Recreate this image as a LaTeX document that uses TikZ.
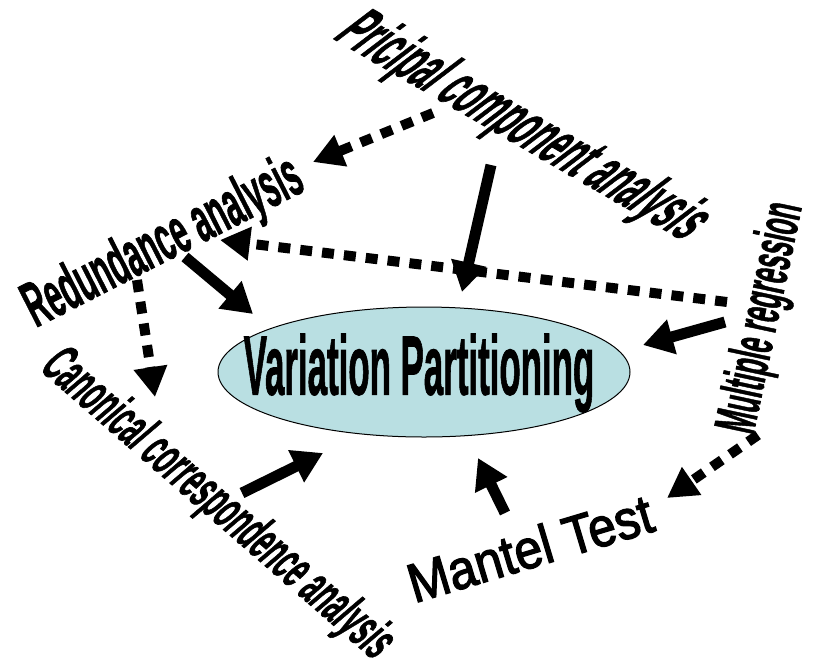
\documentclass[tikz,border=0pt]{standalone}
\usepackage{fontspec}
\setmainfont{Liberation Sans}
\newfontfamily\heavyfont[FakeBold=1.5]{Liberation Sans Bold}
\newfontfamily\plainfont[FakeBold=2.5]{Liberation Sans}
\usepackage{tikz}
\usetikzlibrary{arrows.meta,shapes.geometric}
\definecolor{vpfill}{HTML}{B9DFE2}

\begin{document}
\begin{tikzpicture}[x=1pt,y=-1pt,
  lbl/.style={inner sep=0pt},
  solidarrow/.style={line width=11pt,-{Triangle[length=30pt,width=34pt]}},
  dasharrow/.style={line width=10pt,dash pattern=on 12pt off 10pt,-{Triangle[length=30pt,width=32pt]}}]
  \useasboundingbox (0,0) rectangle (822,665);
  % centre
  \node[ellipse,draw,line width=1pt,fill=vpfill,minimum width=412pt,minimum height=130pt,inner sep=0pt] (vp) at (424,372) {};
  \node[lbl,font=\fontsize{84}{90}\selectfont\heavyfont,xscale=0.415] (vptext) at (419,373) {Variation Partitioning};
  % methods round it
  \node[lbl,font=\fontsize{66}{72}\selectfont\heavyfont,rotate=-30,xslant=0.42,xscale=0.455] (pca) at (522,128) {Pricipal component analysis};
  \node[lbl,font=\fontsize{64}{70}\selectfont\heavyfont,rotate=27,xscale=0.465] (rda) at (164,244) {Redundance analysis};
  \node[lbl,font=\fontsize{56}{62}\selectfont\heavyfont,rotate=-41,xslant=0.15,xscale=0.465] (cca) at (217,505) {Canonical correspondence analysis};
  \node[lbl,font=\fontsize{58}{64}\selectfont\heavyfont,rotate=78,xscale=0.44] (mr) at (763,318) {Multiple regression};
  \node[lbl,font=\fontsize{55}{60}\selectfont\plainfont,rotate=16.7,xscale=0.9] (mt) at (530,548) {Mantel Test};
  % arrow ends
  \coordinate (pcaA) at (433,113);  \coordinate (rdaIn1) at (313,162);
  \coordinate (pcaB) at (491,165);  \coordinate (vpIn1) at (462,292);
  \coordinate (mrA) at (727,302);   \coordinate (rdaIn2) at (220,240);
  \coordinate (rdaA) at (185,257);  \coordinate (vpIn2) at (253,314);
  \coordinate (rdaB) at (137,280);  \coordinate (ccaIn) at (155,397);
  \coordinate (mrB) at (725,322);   \coordinate (vpIn3) at (643,345);
  \coordinate (mrC) at (758,435);   \coordinate (mtIn) at (667,498);
  \coordinate (ccaA) at (242,493);  \coordinate (vpIn4) at (323,453);
  \coordinate (mtA) at (505,513);   \coordinate (vpIn5) at (478,458);
  \draw[dasharrow] (pcaA) -- (rdaIn1);
  \draw[solidarrow] (pcaB) -- (vpIn1);
  \draw[dasharrow] (mrA) -- (rdaIn2);
  \draw[solidarrow] (rdaA) -- (vpIn2);
  \draw[dasharrow] (rdaB) -- (ccaIn);
  \draw[solidarrow] (mrB) -- (vpIn3);
  \draw[dasharrow] (mrC) -- (mtIn);
  \draw[solidarrow] (ccaA) -- (vpIn4);
  \draw[solidarrow] (mtA) -- (vpIn5);
\end{tikzpicture}
\end{document}
